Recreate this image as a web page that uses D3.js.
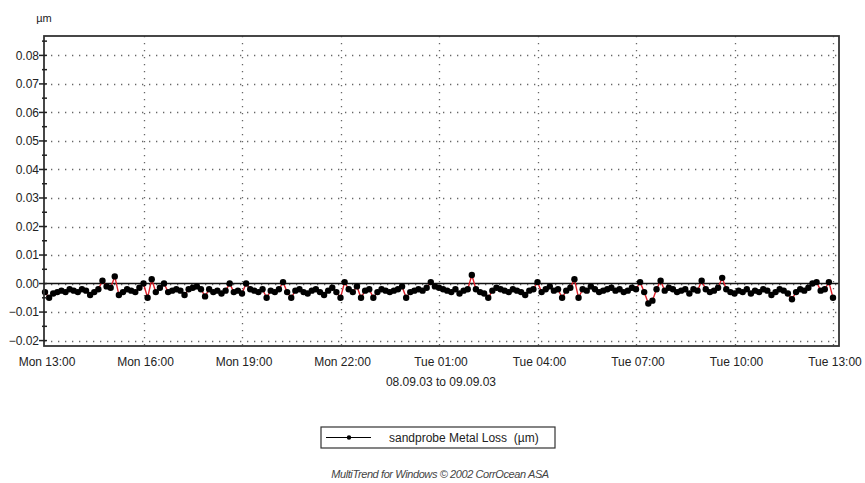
<!DOCTYPE html>
<html>
<head>
<meta charset="utf-8">
<script src="https://cdn.jsdelivr.net/npm/d3@7"></script>
<style>
    body { margin: 0; background: #fff; }
    text { font-family: 'Liberation Sans', Arial, sans-serif; fill: #222; }
</style>
</head>
<body>
<div id="container"></div>
<script>
// chart data
var startTime = '2003-09-08T13:00:00',
    endTime = '2003-09-09T13:00:00',
    stepMinutes = 7.5,
    tickHours = 3

var yTicks = [0.08, 0.07, 0.06, 0.05, 0.04, 0.03, 0.02, 0.01, 0.0, -0.01, -0.02]

var seriesName = 'sandprobe Metal Loss  (\u00b5m)'

// metal loss readings (µm), one every 7.5 minutes
var metalLoss = [
    -0.0030, -0.0050, -0.0035, -0.0030, -0.0025, -0.0030, -0.0020, -0.0025, -0.0030, -0.0020,
    -0.0025, -0.0040, -0.0030, -0.0020, 0.0010, -0.0010, -0.0015, 0.0025, -0.0040, -0.0030,
    -0.0020, -0.0025, -0.0030, -0.0015, 0.0000, -0.0050, 0.0015, -0.0030, -0.0015, 0.0000,
    -0.0030, -0.0025, -0.0020, -0.0025, -0.0040, -0.0020, -0.0015, -0.0010, -0.0020, -0.0045,
    -0.0020, -0.0030, -0.0025, -0.0035, -0.0025, 0.0000, -0.0030, -0.0025, -0.0035, 0.0000,
    -0.0020, -0.0025, -0.0030, -0.0020, -0.0050, -0.0025, -0.0030, -0.0020, 0.0005, -0.0030,
    -0.0050, -0.0025, -0.0020, -0.0030, -0.0035, -0.0025, -0.0020, -0.0030, -0.0040, -0.0025,
    -0.0015, -0.0030, -0.0050, 0.0005, -0.0020, -0.0030, -0.0010, -0.0050, -0.0025, -0.0020,
    -0.0050, -0.0030, -0.0020, -0.0025, -0.0030, -0.0025, -0.0020, -0.0010, -0.0050, -0.0030,
    -0.0025, -0.0020, -0.0025, -0.0015, 0.0005, -0.0010, -0.0015, -0.0020, -0.0025, -0.0030,
    -0.0020, -0.0035, -0.0025, -0.0020, 0.0030, -0.0020, -0.0030, -0.0035, -0.0050, -0.0025,
    -0.0015, -0.0020, -0.0025, -0.0030, -0.0020, -0.0025, -0.0030, -0.0040, -0.0025, -0.0020,
    0.0005, -0.0030, -0.0020, -0.0010, -0.0025, -0.0020, -0.0050, -0.0025, -0.0015, 0.0015,
    -0.0050, -0.0020, -0.0025, -0.0010, -0.0020, -0.0030, -0.0025, -0.0020, -0.0015, -0.0025,
    -0.0020, -0.0030, -0.0025, -0.0015, -0.0020, 0.0005, -0.0030, -0.0070, -0.0060, -0.0020,
    0.0010, -0.0025, -0.0015, -0.0020, -0.0030, -0.0025, -0.0020, -0.0035, -0.0020, -0.0025,
    0.0010, -0.0020, -0.0030, -0.0025, -0.0015, 0.0020, -0.0020, -0.0030, -0.0035, -0.0025,
    -0.0030, -0.0020, -0.0035, -0.0025, -0.0030, -0.0020, -0.0025, -0.0040, -0.0030, -0.0020,
    -0.0025, -0.0035, -0.0055, -0.0030, -0.0020, -0.0025, -0.0015, 0.0000, 0.0005, -0.0025,
    -0.0020, 0.0005, -0.0050
]

var width = 865,
    height = 483

// plot frame
var frame = { left: 44, right: 839, top: 36, bottom: 346 }

var t0 = new Date(startTime),
    t1 = new Date(endTime)

var data = metalLoss.map(function(v, i) {
    return { time: new Date(t0.getTime() + i * stepMinutes * 60000), value: v }
})

var x = d3.scaleTime().domain([t0, t1]).range([45, 833])
var y = d3.scaleLinear().domain([-0.0219, 0.0868]).range([frame.bottom, frame.top])

var svg = d3
    .select('#container')
    .append('svg')
    .attr('width', width)
    .attr('height', height)
    .style('background', '#fff')

// ticks every 3 hours starting at the first reading
var xTicks = d3.range(0, 24 / tickHours + 1).map(function(i) {
    return d3.timeHour.offset(t0, i * tickHours)
})
var formatTime = d3.timeFormat('%a %H:%M')
var formatY = d3.format('.2f')

// horizontal dotted grid
svg.append('g')
    .selectAll('line')
    .data(yTicks)
    .enter()
    .append('line')
    .attr('x1', frame.left)
    .attr('x2', frame.right)
    .attr('y1', function(d) { return Math.round(y(d)) + 0.5 })
    .attr('y2', function(d) { return Math.round(y(d)) + 0.5 })
    .style('stroke', '#666')
    .style('stroke-width', 1.3)
    .style('stroke-dasharray', '1.3,5.7')

// vertical dotted grid
svg.append('g')
    .selectAll('line')
    .data(xTicks.slice(1))
    .enter()
    .append('line')
    .attr('x1', function(d) { return Math.round(x(d)) + 0.5 })
    .attr('x2', function(d) { return Math.round(x(d)) + 0.5 })
    .attr('y1', frame.top)
    .attr('y2', frame.bottom)
    .style('stroke', '#666')
    .style('stroke-width', 1.3)
    .style('stroke-dasharray', '1.3,5.7')

// zero line
svg.append('line')
    .attr('x1', frame.left)
    .attr('x2', frame.right)
    .attr('y1', y(0))
    .attr('y2', y(0))
    .style('stroke', '#111')
    .style('stroke-width', 1.5)

// series line + markers
var line = d3.line()
    .x(function(d) { return x(d.time) })
    .y(function(d) { return y(d.value) })

svg.append('path')
    .datum(data)
    .attr('d', line)
    .style('fill', 'none')
    .style('stroke', '#e0202a')
    .style('stroke-width', 1.4)

svg.append('g')
    .selectAll('circle')
    .data(data)
    .enter()
    .append('circle')
    .attr('cx', function(d) { return x(d.time) })
    .attr('cy', function(d) { return y(d.value) })
    .attr('r', 3.2)
    .style('fill', '#000')

// frame
svg.append('rect')
    .attr('x', frame.left)
    .attr('y', frame.top)
    .attr('width', frame.right - frame.left)
    .attr('height', frame.bottom - frame.top)
    .style('fill', 'none')
    .style('stroke', '#333')
    .style('stroke-width', 1.8)

// y axis ticks: major ticks cross the axis, minor at half step
var minorTicks = d3.range(-0.015, 0.086, 0.01)

svg.append('g')
    .selectAll('line')
    .data(yTicks)
    .enter()
    .append('line')
    .attr('x1', frame.left - 5)
    .attr('x2', frame.left + 3)
    .attr('y1', function(d) { return y(d) })
    .attr('y2', function(d) { return y(d) })
    .style('stroke', '#222')
    .style('stroke-width', 1.5)

svg.append('g')
    .selectAll('line')
    .data(minorTicks)
    .enter()
    .append('line')
    .attr('x1', frame.left - 2)
    .attr('x2', frame.left + 3)
    .attr('y1', function(d) { return y(d) })
    .attr('y2', function(d) { return y(d) })
    .style('stroke', '#222')
    .style('stroke-width', 1.5)

svg.append('g')
    .selectAll('text')
    .data(yTicks)
    .enter()
    .append('text')
    .attr('x', frame.left - 5)
    .attr('y', function(d) { return y(d) })
    .attr('dy', '.35em')
    .attr('text-anchor', 'end')
    .style('font-size', '12px')
    .text(function(d) { return formatY(d) })

// x tick labels
svg.append('g')
    .selectAll('text')
    .data(xTicks)
    .enter()
    .append('text')
    .attr('x', function(d) { return x(d) + 2 })
    .attr('y', 366)
    .attr('text-anchor', 'middle')
    .style('font-size', '12px')
    .text(function(d) { return formatTime(d) })

svg.append('text')
    .attr('x', 441)
    .attr('y', 386)
    .attr('text-anchor', 'middle')
    .style('font-size', '12px')
    .text('08.09.03 to 09.09.03')

// unit label
svg.append('text')
    .attr('x', 44)
    .attr('y', 22)
    .attr('text-anchor', 'middle')
    .style('font-size', '11px')
    .text('\u00b5m')

// legend
var legend = svg.append('g').attr('transform', 'translate(321,427)')

legend.append('rect')
    .attr('width', 234)
    .attr('height', 21)
    .style('fill', '#fff')
    .style('stroke', '#333')
    .style('stroke-width', 1.2)

legend.append('line')
    .attr('x1', 5)
    .attr('x2', 50)
    .attr('y1', 10.5)
    .attr('y2', 10.5)
    .style('stroke', '#000')
    .style('stroke-width', 1.2)

legend.append('circle')
    .attr('cx', 28)
    .attr('cy', 10.5)
    .attr('r', 2.2)
    .style('fill', '#000')

legend.append('text')
    .attr('x', 68)
    .attr('y', 15)
    .style('font-size', '12px')
    .style('white-space', 'pre')
    .text(seriesName)

// footer
svg.append('text')
    .attr('x', 440)
    .attr('y', 478)
    .attr('text-anchor', 'middle')
    .style('font-size', '11px')
    .style('font-style', 'italic')
    .style('fill', '#444')
    .style('letter-spacing', '-0.4px')
    .text('MultiTrend for Windows \u00a9 2002 CorrOcean ASA')
</script>
</body>
</html>
